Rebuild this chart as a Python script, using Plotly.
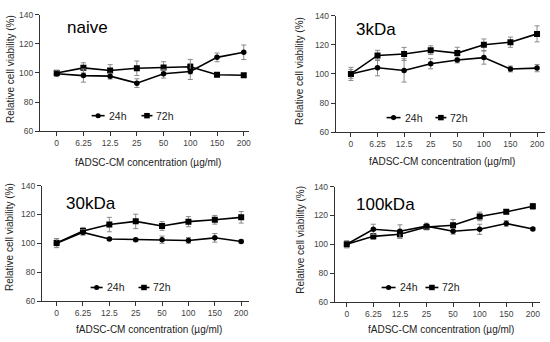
import plotly.graph_objects as go

W, H = 550, 342

categories = ["0", "6.25", "12.5", "25", "50", "100", "150", "200"]
panel_titles = ["naive", "3kDa", "30kDa", "100kDa"]
series_names = ["24h", "72h"]

naive_24h = [99.5, 98.2, 97.8, 93.0, 99.5, 101.0, 110.7, 114.2]
naive_24h_err = [2.0, 4.5, 2.0, 3.0, 3.0, 5.5, 3.0, 5.0]
naive_72h = [100.0, 103.5, 101.7, 103.2, 103.7, 104.3, 98.8, 98.4]
naive_72h_err = [2.0, 3.5, 4.0, 5.0, 4.0, 5.0, 1.0, 1.0]

kda3_24h = [100.0, 104.2, 102.4, 107.0, 109.6, 111.2, 103.4, 104.0]
kda3_24h_err = [4.5, 5.5, 8.0, 3.5, 2.0, 4.5, 2.0, 2.5]
kda3_72h = [100.0, 112.7, 113.7, 116.3, 114.3, 120.0, 121.8, 127.5]
kda3_72h_err = [3.0, 3.5, 4.5, 3.0, 4.0, 4.0, 3.5, 5.5]

kda30_24h = [100.0, 107.6, 103.0, 102.5, 102.5, 102.0, 103.8, 101.3]
kda30_24h_err = [3.0, 2.0, 1.0, 1.0, 2.5, 2.0, 3.0, 1.0]
kda30_72h = [100.3, 108.5, 113.0, 115.2, 112.0, 115.0, 116.3, 118.0]
kda30_72h_err = [3.0, 2.5, 5.0, 5.0, 3.0, 3.5, 3.0, 4.0]

kda100_24h = [100.0, 110.4, 109.0, 112.6, 109.0, 110.4, 114.4, 110.6]
kda100_24h_err = [2.5, 3.5, 4.5, 2.0, 2.0, 3.5, 2.0, 1.0]
kda100_72h = [100.0, 105.5, 107.0, 112.0, 113.2, 119.3, 122.5, 126.3]
kda100_72h_err = [2.0, 2.0, 3.0, 2.0, 4.0, 3.0, 1.5, 2.0]

panels = [
    (naive_24h, naive_24h_err, naive_72h, naive_72h_err),
    (kda3_24h, kda3_24h_err, kda3_72h, kda3_72h_err),
    (kda30_24h, kda30_24h_err, kda30_72h, kda30_72h_err),
    (kda100_24h, kda100_24h_err, kda100_72h, kda100_72h_err),
]

FONT = "Liberation Sans, Arial, sans-serif"

def px(x):
    return x / W

def py(y):
    return 1 - y / H

# pixel layout of each panel: (x0, x1, ytop, ybottom, xrange)
geo = [
    (40, 250, 10, 130, [-0.63, 7.2]),
    (337, 547, 11, 131, [-0.57, 7.3]),
    (42, 250, 186, 305, [-0.56, 7.3]),
    (336, 542, 187, 306, [-0.45, 7.27]),
]
title_pos = [(65, 23), (355, 25), (64, 204), (355, 205)]
ytitle_pos = [(10, 66), (300, 68), (9, 239), (302, 242)]
xtitle_pos = [(149, 162), (444, 161), (150, 334), (443, 334)]
# legend: (line1 x0, x1, text x, line2 x0, x1, text x, y)
leg_pos = [
    (92, 105, 107, 142, 153, 155, 114),
    (388, 402, 404, 437, 448, 450, 116),
    (91, 103, 105, 139, 150, 152, 291),
    (383, 397, 399, 427, 440, 442, 291),
]

fig = go.Figure()
layout = dict(
    width=W, height=H, margin=dict(l=0, r=0, t=0, b=0),
    paper_bgcolor="white", plot_bgcolor="white", showlegend=False,
    font=dict(family=FONT, color="#222"),
)
annotations = []
shapes = []

for i, (y24, e24, y72, e72) in enumerate(panels):
    k = "" if i == 0 else str(i + 1)
    xa, ya = "x" + k, "y" + k
    x0, x1, yt, yb, xr = geo[i]
    for yv, ev, sym, sz, name in [(y72, e72, "square", 6, series_names[1]),
                                  (y24, e24, "circle", 5.5, series_names[0])]:
        fig.add_trace(go.Scatter(
            x=categories, y=yv, xaxis=xa, yaxis=ya, name=name,
            mode="lines+markers",
            line=dict(color="black", width=1.6),
            marker=dict(symbol=sym, size=sz, color="black"),
            error_y=dict(type="data", array=ev, visible=True,
                         color="#8a8a8a", thickness=1, width=2.5),
        ))
    axcommon = dict(showgrid=False, zeroline=False, showline=True,
                    linecolor="#333", linewidth=1, ticks="outside",
                    ticklen=4, tickcolor="#333",
                    tickfont=dict(size=8.5, color="#444", family=FONT))
    layout["xaxis" + k] = dict(axcommon, domain=[px(x0), px(x1)], anchor=ya,
                               type="category", range=xr,
                               categoryorder="array", categoryarray=categories)
    layout["yaxis" + k] = dict(axcommon, domain=[py(yb), py(yt)], anchor=xa,
                               range=[60, 140], tickvals=[60, 80, 100, 120, 140])
    tx, ty = title_pos[i]
    annotations.append(dict(text=panel_titles[i], x=px(tx), y=py(ty),
                            xref="paper", yref="paper", xanchor="left",
                            yanchor="middle", showarrow=False,
                            font=dict(size=17, color="black", family=FONT)))
    yx, yy = ytitle_pos[i]
    annotations.append(dict(text="Relative cell viability (%)", x=px(yx), y=py(yy),
                            xref="paper", yref="paper", textangle=-90,
                            xanchor="center", yanchor="middle", showarrow=False,
                            font=dict(size=10, color="#222", family=FONT)))
    xx, xy = xtitle_pos[i]
    annotations.append(dict(text="fADSC-CM concentration (µg/ml)", x=px(xx), y=py(xy),
                            xref="paper", yref="paper",
                            xanchor="center", yanchor="middle", showarrow=False,
                            font=dict(size=10, color="#222", family=FONT)))
    l1a, l1b, t1, l2a, l2b, t2, ly = leg_pos[i]
    for la, lb, tx_, sym, name in [(l1a, l1b, t1, "circle", series_names[0]),
                                   (l2a, l2b, t2, "square", series_names[1])]:
        shapes.append(dict(type="line", xref="paper", yref="paper",
                           x0=px(la), x1=px(lb), y0=py(ly), y1=py(ly),
                           line=dict(color="black", width=1.6)))
        c = (la + lb) / 2
        r = 2.6 if sym == "circle" else 2.8
        shapes.append(dict(type="circle" if sym == "circle" else "rect",
                           xref="paper", yref="paper",
                           x0=px(c - r), x1=px(c + r), y0=py(ly + r), y1=py(ly - r),
                           fillcolor="black", line=dict(color="black", width=0)))
        annotations.append(dict(text=name, x=px(tx_), y=py(ly), xref="paper",
                                yref="paper", xanchor="left", yanchor="middle",
                                showarrow=False,
                                font=dict(size=10.5, color="#222", family=FONT)))

layout["annotations"] = annotations
layout["shapes"] = shapes
fig.update_layout(**layout)
fig.write_html("out.html", config={"displayModeBar": False},
               post_script="document.body.style.margin='0';document.body.style.overflow='hidden';")
